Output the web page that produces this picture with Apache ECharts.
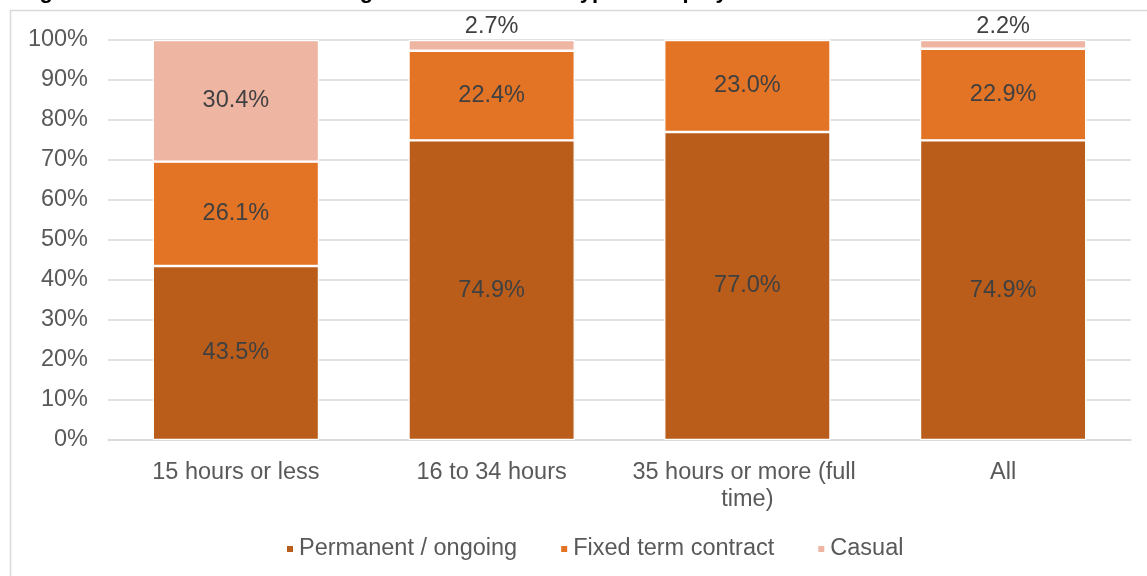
<!DOCTYPE html>
<html>
<head>
<meta charset="utf-8">
<script src="https://cdn.jsdelivr.net/npm/echarts@6/dist/echarts.min.js"></script>
<style>
  html, body { margin: 0; padding: 0; background: #fff; }
  #chart { width: 1147px; height: 576px; }
</style>
</head>
<body>
<div id="chart"></div>
<script>
// categories and values
var categories = ['15 hours or less', '16 to 34 hours', '35 hours or more (full time)', 'All']
var permanent = [43.5, 74.9, 77.0, 74.9]
var fixedTerm = [26.1, 22.4, 23.0, 22.9]
var casual = [30.4, 2.7, 0, 2.2]
var yTicks = [0, 10, 20, 30, 40, 50, 60, 70, 80, 90, 100]

var font = 'Liberation Sans, Arial, sans-serif'
var fs = 23.5

function segLabel (v) {
  return v > 0 ? v.toFixed(1) + '%' : ''
}

function casualData () {
  return casual.map(function (v) {
    // thin slices get the label above the bar
    if (v < 5) {
      return { value: v, label: { position: 'top', distance: 1 } }
    }
    return v
  })
}

var myChart = echarts.init(document.getElementById('chart'))

var option = {
  animation: false,
  textStyle: { fontFamily: font },
  title: {
    // only the bottom of the title shows in the picture
    text: 'Figure 10: Share of usual working hours within each type of employment',
    left: 15,
    top: -24,
    textStyle: { fontSize: 22, fontWeight: 'bold', color: '#000', fontFamily: font }
  },
  graphic: [
    {
      type: 'rect',
      silent: true,
      shape: { x: 10.5, y: 10.5, width: 1150, height: 600 },
      style: { fill: 'none', stroke: '#d9d9d9', lineWidth: 1.5 }
    }
  ],
  grid: { left: 108, right: 16, top: 40, bottom: 136, containLabel: false },
  legend: {
    bottom: 10,
    left: 280,
    itemWidth: 8,
    itemHeight: 8,
    itemGap: 42,
    icon: 'rect',
    textStyle: { fontSize: fs, color: '#595959', fontFamily: font },
    data: ['Permanent / ongoing', 'Fixed term contract', 'Casual']
  },
  xAxis: {
    type: 'category',
    data: categories,
    axisLine: { show: true, lineStyle: { color: '#d9d9d9', width: 1.5 } },
    axisTick: { show: false },
    axisLabel: {
      color: '#595959',
      fontSize: fs,
      margin: 19,
      lineHeight: 27,
      width: 250,
      overflow: 'break',
      interval: 0
    }
  },
  yAxis: {
    type: 'value',
    min: yTicks[0],
    max: yTicks[yTicks.length - 1],
    interval: 10,
    axisLine: { show: false },
    axisTick: { show: false },
    splitLine: { lineStyle: { color: '#d9d9d9', width: 1.5 } },
    axisLabel: {
      color: '#595959',
      fontSize: fs,
      margin: 20,
      formatter: function (v) { return v + '%' }
    }
  },
  series: [
    {
      name: 'Permanent / ongoing',
      type: 'bar',
      stack: 'total',
      barWidth: '65%',
      data: permanent,
      itemStyle: { color: '#BA5D1A', borderColor: '#fff', borderWidth: 1.2 },
      label: {
        show: true,
        position: 'inside',
        color: '#404040',
        fontSize: fs,
        formatter: function (p) { return segLabel(p.value) }
      }
    },
    {
      name: 'Fixed term contract',
      type: 'bar',
      stack: 'total',
      data: fixedTerm,
      itemStyle: { color: '#E37325', borderColor: '#fff', borderWidth: 1.2 },
      label: {
        show: true,
        position: 'inside',
        color: '#404040',
        fontSize: fs,
        formatter: function (p) { return segLabel(p.value) }
      }
    },
    {
      name: 'Casual',
      type: 'bar',
      stack: 'total',
      data: casualData(),
      itemStyle: { color: '#EEB5A3', borderColor: '#fff', borderWidth: 1.2 },
      label: {
        show: true,
        position: 'inside',
        color: '#404040',
        fontSize: fs,
        formatter: function (p) { return segLabel(p.value) }
      }
    }
  ]
}

myChart.setOption(option)
</script>
</body>
</html>
